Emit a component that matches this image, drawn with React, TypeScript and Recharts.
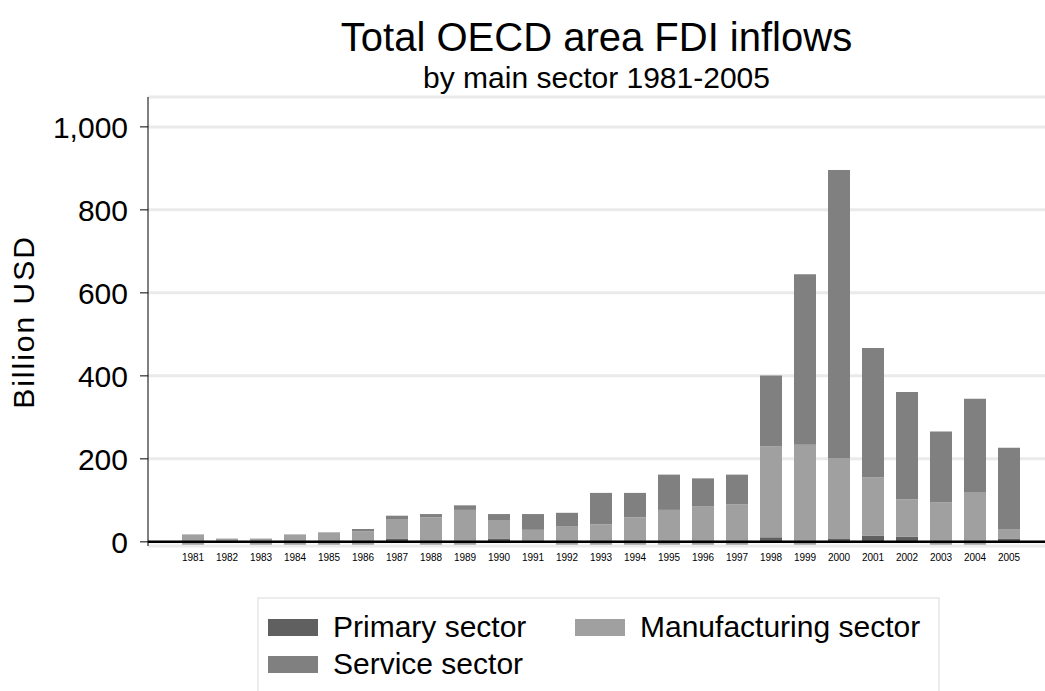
import React from "react";
import {
  BarChart, Bar, XAxis, YAxis, CartesianGrid, ReferenceLine,
} from "recharts";

// ─── Data (billion USD) ──────────────────────────────────────────────────────
const years = [
  "1981", "1982", "1983", "1984", "1985", "1986", "1987", "1988", "1989",
  "1990", "1991", "1992", "1993", "1994", "1995", "1996", "1997", "1998",
  "1999", "2000", "2001", "2002", "2003", "2004", "2005",
];
const primary = [
  -6, 0, -6, -6, -6, -6, 7, -6, -6, 7, 0, -6, -6, -6, -6, -6, -6, 11, -6, 7,
  15, 12, -6, -6, 7,
];
const manufacturing = [
  24, 8, 14, 24, 29, 31, 48, 65, 83, 44, 29, 44, 48, 65, 83, 91, 96, 219, 240,
  195, 140, 90, 101, 126, 23,
];
const service = [
  0, 0, 0, 0, 0, 6, 8, 8, 11, 16, 38, 32, 76, 59, 85, 68, 72, 171, 411, 694,
  312, 259, 171, 225, 197,
];
const yTicks = [0, 200, 400, 600, 800, 1000];

const data = years.map((year, i) => ({
  year,
  primary: primary[i],
  manufacturing: manufacturing[i],
  service: service[i],
}));

const COLORS = {
  primary: "#606060",
  manufacturing: "#a0a0a0",
  service: "#808080",
};

const FONT = '"Liberation Sans", Arial, Helvetica, sans-serif';

function LegendItem({ left, top, color, label }: { left: number; top: number; color: string; label: string }) {
  return (
    <div style={{ position: "absolute", left, top, display: "flex", alignItems: "center", height: 30 }}>
      <span style={{ display: "inline-block", width: 50, height: 17, background: color }} />
      <span style={{ marginLeft: 15, fontSize: 30, lineHeight: "30px", color: "#000", whiteSpace: "nowrap" }}>
        {label}
      </span>
    </div>
  );
}

export default function App() {
  return (
    <div
      style={{
        position: "absolute", left: 0, top: 0, width: 1045, height: 691,
        overflow: "hidden", background: "#fff", fontFamily: FONT,
      }}
    >
      <div style={{ position: "absolute", left: 148, top: 17, width: 897, textAlign: "center", fontSize: 40, lineHeight: "40px" }}>
        Total OECD area FDI inflows
      </div>
      <div style={{ position: "absolute", left: 148, top: 63, width: 897, textAlign: "center", fontSize: 30, lineHeight: "30px" }}>
        by main sector 1981-2005
      </div>
      <div
        style={{
          position: "absolute", left: 24, top: 322, fontSize: 30, lineHeight: "30px",
          letterSpacing: 2, whiteSpace: "nowrap", transform: "translate(-50%, -50%) rotate(-90deg)",
        }}
      >
        Billion USD
      </div>

      <BarChart
        width={1045}
        height={691}
        data={data}
        margin={{ top: 97, right: 0, bottom: 120, left: 0 }}
        style={{ position: "absolute", left: 0, top: 0 }}
      >
        <CartesianGrid vertical={false} stroke="#eaeaea" strokeWidth={3} />
        <XAxis
          dataKey="year"
          axisLine={false}
          tickLine={false}
          tickSize={0}
          tickMargin={8}
          height={25}
          interval={0}
          padding={{ left: 28, right: 19 }}
          tick={{ fontSize: 10, fill: "#000", fontFamily: FONT }}
        />
        <YAxis
          width={148}
          domain={[-10, 1072]}
          ticks={yTicks}
          allowDataOverflow
          axisLine={{ stroke: "#000", strokeWidth: 1 }}
          tickLine={{ stroke: "#000", strokeWidth: 1 }}
          tickSize={8}
          tickMargin={12}
          tickFormatter={(v) => v.toLocaleString("en-US")}
          tick={{ fontSize: 30, fill: "#000", fontFamily: FONT }}
        />
        <Bar dataKey="primary" stackId="a" fill={COLORS.primary} barSize={22} isAnimationActive={false} />
        <Bar dataKey="manufacturing" stackId="a" fill={COLORS.manufacturing} barSize={22} isAnimationActive={false} />
        <Bar dataKey="service" stackId="a" fill={COLORS.service} barSize={22} isAnimationActive={false} />
        <ReferenceLine y={0} stroke="#000" strokeWidth={2.5} />
      </BarChart>

      <div
        style={{
          position: "absolute", left: 257, top: 597, width: 683, height: 110,
          border: "2px solid #ececec", boxSizing: "border-box",
        }}
      />
      <LegendItem left={268} top={612} color={COLORS.primary} label="Primary sector" />
      <LegendItem left={575} top={612} color={COLORS.manufacturing} label="Manufacturing sector" />
      <LegendItem left={268} top={649} color={COLORS.service} label="Service sector" />
    </div>
  );
}
